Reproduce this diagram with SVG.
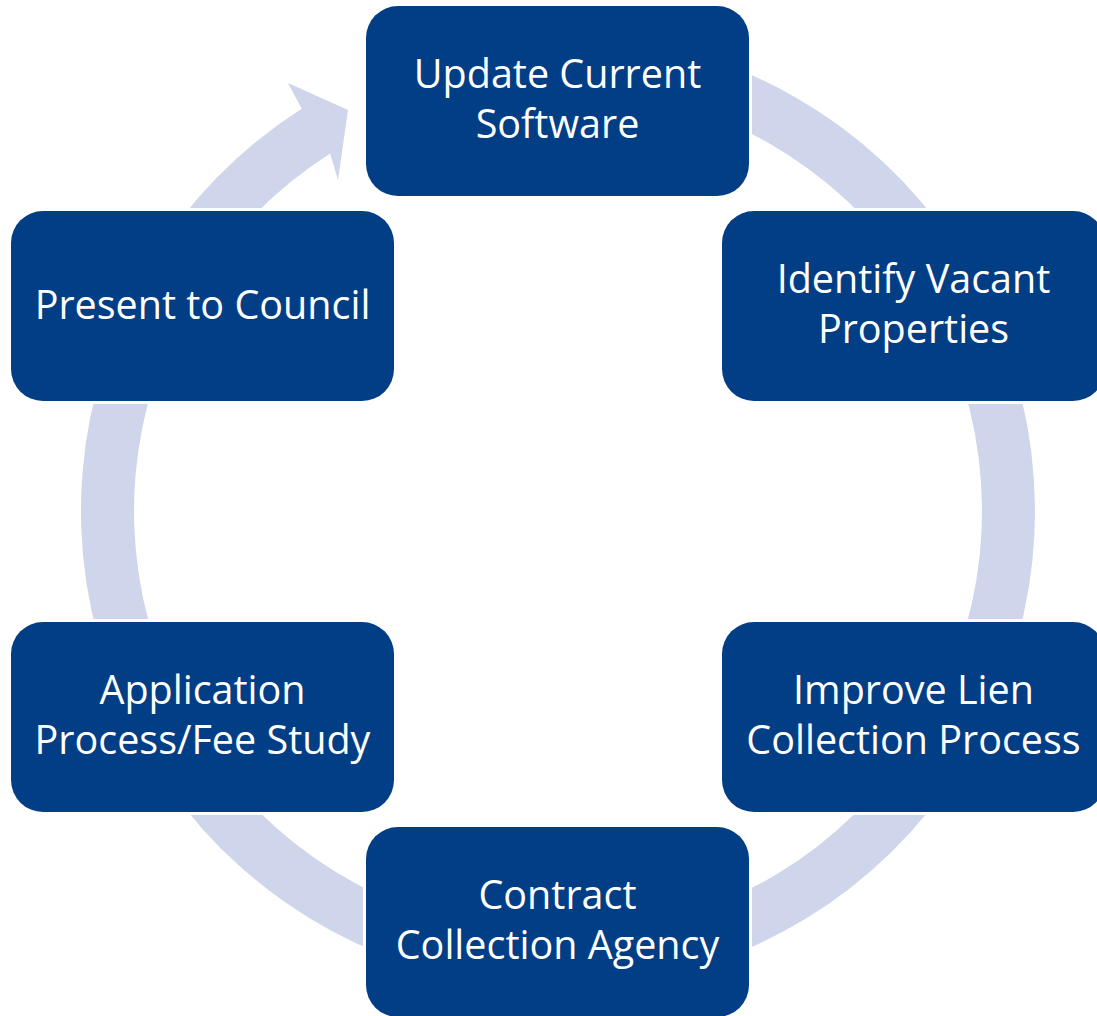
<svg xmlns="http://www.w3.org/2000/svg" width="1097" height="1016" viewBox="0 0 1097 1016">
  <style>
    .box { fill: #023E85; stroke: #FFFFFF; stroke-width: 6; paint-order: stroke fill; }
    .lbl { fill: #FFFFFF; font-family: "Open Sans", Lato, sans-serif; font-size: 39.5px; text-anchor: middle; font-variant-ligatures: none; }
    .ring { fill: #CFD5EA; }
  </style>
  <rect width="1097" height="1016" fill="#FFFFFF"/>
  <g id="connectors">
    <path class="ring" d="M 640.83 41.25 A 477 477 0 1 1 301.7 108.7 L 288 83 L 348 110 L 338 180 L 330.2 153.4 A 424 424 0 1 0 631.63 93.44 Z"/>
  </g>
  <g id="node-update">
    <rect class="box" x="366" y="6" width="383" height="190" rx="32"/>
    <text class="lbl" x="557.5" y="88">Update Current</text>
    <text class="lbl" x="557.5" y="138">Software</text>
  </g>
  <g id="node-identify">
    <rect class="box" x="722" y="211" width="383" height="190" rx="32"/>
    <text class="lbl" x="913.5" y="293">Identify Vacant</text>
    <text class="lbl" x="913.5" y="343">Properties</text>
  </g>
  <g id="node-lien">
    <rect class="box" x="722" y="622" width="383" height="190" rx="32"/>
    <text class="lbl" x="913.5" y="704">Improve Lien</text>
    <text class="lbl" x="913.5" y="754">Collection Process</text>
  </g>
  <g id="node-agency">
    <rect class="box" x="366" y="827" width="383" height="190" rx="32"/>
    <text class="lbl" x="557.5" y="909">Contract</text>
    <text class="lbl" x="557.5" y="959">Collection Agency</text>
  </g>
  <g id="node-application">
    <rect class="box" x="11" y="622" width="383" height="190" rx="32"/>
    <text class="lbl" x="202.5" y="704">Application</text>
    <text class="lbl" x="202.5" y="754">Process/Fee Study</text>
  </g>
  <g id="node-council">
    <rect class="box" x="11" y="211" width="383" height="190" rx="32"/>
    <text class="lbl" x="202.5" y="319">Present to Council</text>
  </g>
</svg>
